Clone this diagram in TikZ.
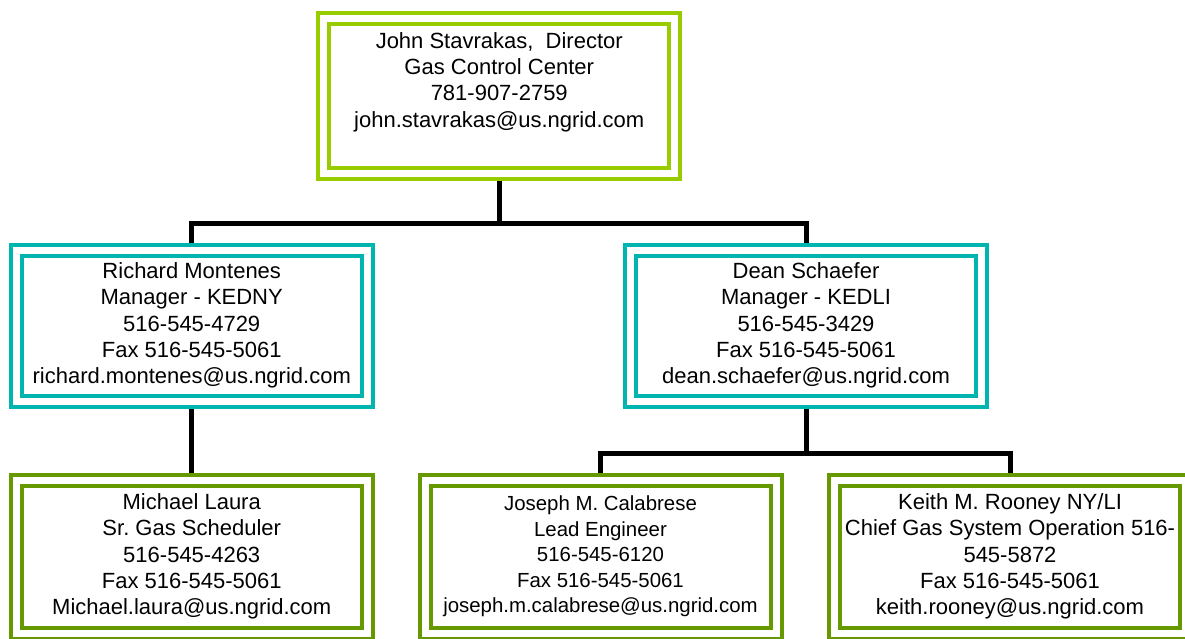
\documentclass[tikz,border=0pt]{standalone}
\usepackage{fontspec}
\setmainfont{Liberation Sans}
\usetikzlibrary{positioning}
\definecolor{limeg}{HTML}{99CC00}
\definecolor{tealc}{HTML}{00B4AF}
\definecolor{oliveg}{HTML}{669900}
\frenchspacing

\begin{document}
\begin{tikzpicture}[x=1pt,y=-1pt,on grid,
    box/.style={rectangle,line width=4pt,double=white,double distance=7pt,
      inner sep=0pt,outer sep=7.5pt,minimum width=351pt,minimum height=151pt,
      align=center,font=\fontsize{22}{26.3}\selectfont},
    topbox/.style={box,draw=limeg,minimum height=155pt},
    midbox/.style={box,draw=tealc},
    lowbox/.style={box,draw=oliveg,minimum height=153pt},
    conn/.style={line width=5pt,line join=miter}]
   \useasboundingbox (0,0) rectangle (1185,638);
   \node[topbox] (dir) at (499.25,96) {John Stavrakas,\ \ Director\\Gas Control Center\\781-907-2759\\john.stavrakas@us.ngrid.com\\[6pt]\mbox{}};
   \node[midbox] (kedny) [below left=229.5pt and 307.5pt of dir] {Richard Montenes\\Manager - KEDNY\\516-545-4729\\Fax 516-545-5061\\richard.montenes@us.ngrid.com};
   \node[midbox] (kedli) [below right=229.5pt and 306.75pt of dir] {Dean Schaefer\\Manager - KEDLI\\516-545-3429\\Fax 516-545-5061\\dean.schaefer@us.ngrid.com};
   \node[lowbox] (laura) [below=231pt of kedny] {Michael Laura\\Sr. Gas Scheduler\\516-545-4263\\Fax 516-545-5061\\Michael.laura@us.ngrid.com};
   \node[lowbox,font=\fontsize{20.4}{25.5}\selectfont] (calab) [below left=231pt and 205.5pt of kedli] {Joseph M. Calabrese\\Lead Engineer\\516-545-6120\\Fax 516-545-5061\\joseph.m.calabrese@us.ngrid.com};
   \node[lowbox] (rooney) [below right=231pt and 204pt of kedli] {Keith M. Rooney NY/LI\\Chief Gas System Operation 516-\\545-5872\\Fax 516-545-5061\\keith.rooney@us.ngrid.com};
   % reporting lines
   \draw[conn] (dir.south) -- ++(0,42.5) -| (kedny.north);
   \draw[conn] (dir.south) -- ++(0,42.5) -| (kedli.north);
   \draw[conn] (kedny.south) -- (laura.north);
   \draw[conn] (kedli.south) -- ++(0,45) -| (calab.north);
   \draw[conn] (kedli.south) -- ++(0,45) -| (rooney.north);
\end{tikzpicture}
\end{document}
